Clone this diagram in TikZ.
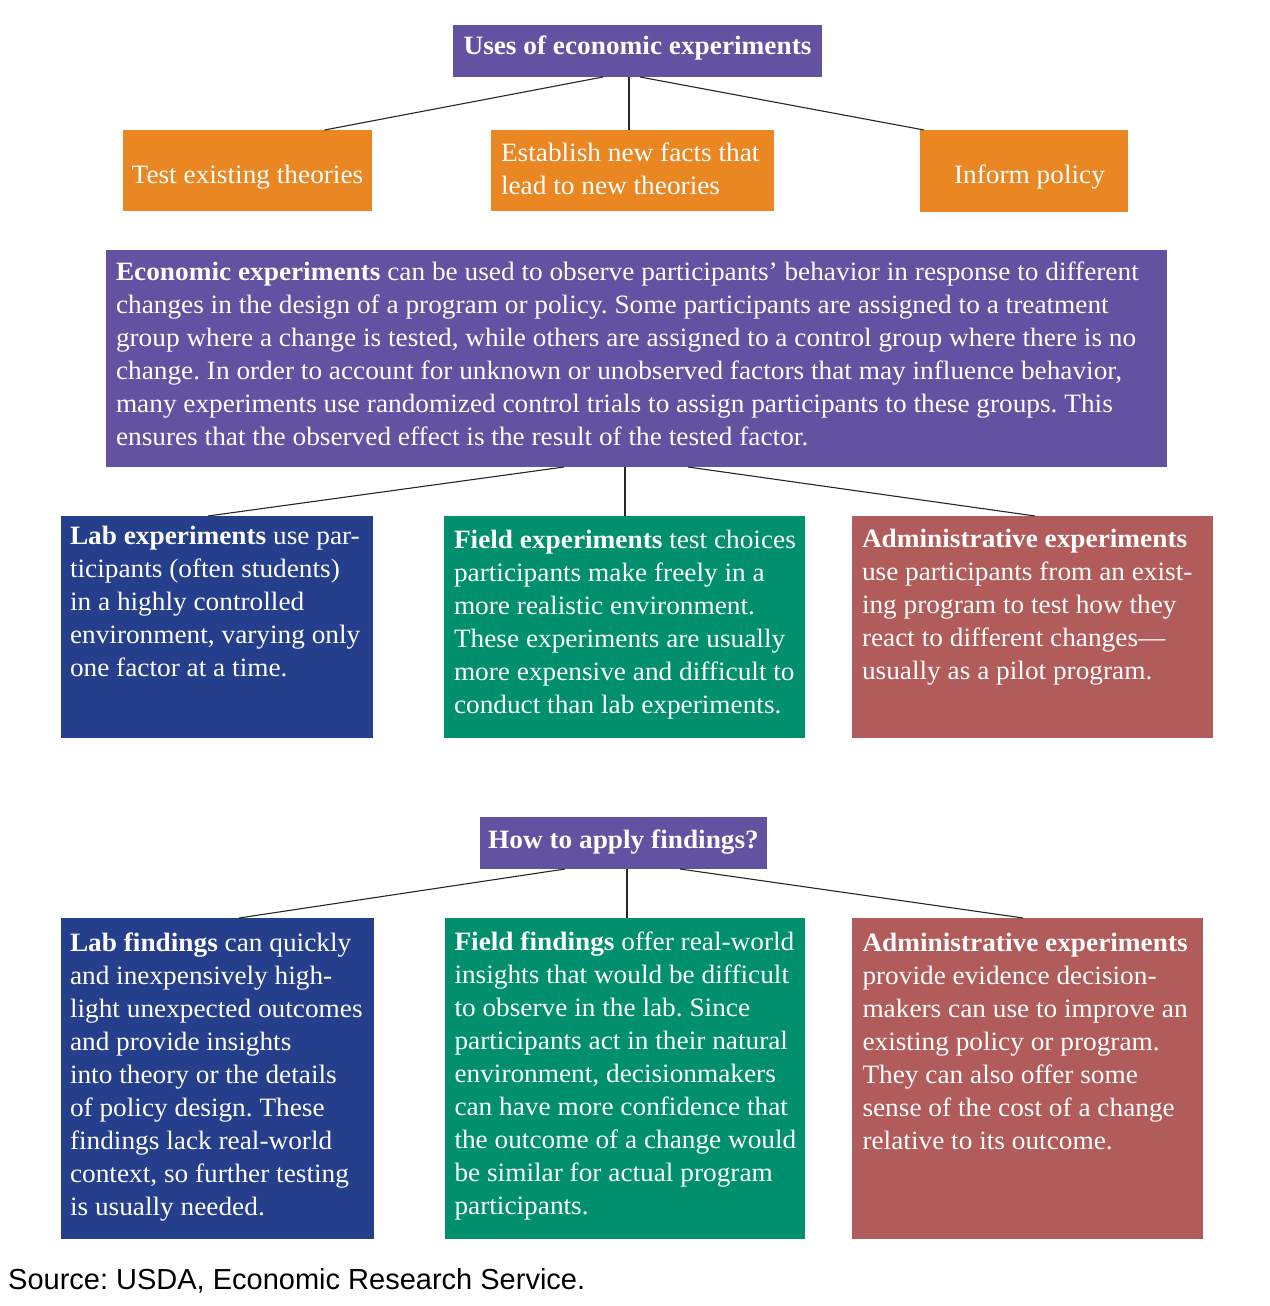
\documentclass[tikz,border=0pt]{standalone}
\usepackage{fontspec}
\setmainfont[FakeStretch=1.03]{Liberation Serif}
\setsansfont{Liberation Sans}
\definecolor{purp}{RGB}{99,81,161}
\definecolor{orng}{RGB}{234,135,35}
\definecolor{blu}{RGB}{37,63,140}
\definecolor{grn}{RGB}{0,144,110}
\definecolor{rse}{RGB}{177,92,90}
\AtBeginDocument{\frenchspacing}
\tikzset{
  boxnode/.style={inner sep=0pt, outer sep=0pt, anchor=north west, draw=none},
  txt/.style={inner sep=0pt, outer sep=0pt, anchor=north west, align=left, text=white,
    font=\fontsize{26.5}{33}\selectfont},
  ctxt/.style={inner sep=0pt, outer sep=0pt, anchor=base, text=white,
    font=\fontsize{26.5}{33}\selectfont},
  link/.style={draw=black!85, line width=1.1pt}
}
\begin{document}
\begin{tikzpicture}[x=1pt,y=-1pt]
\useasboundingbox (0,0) rectangle (1269,1306);

% ---- top title and orange boxes
\node[boxnode, fill=purp, minimum width=369pt, minimum height=52pt] (t1) at (453,25) {};
\node[ctxt, font=\fontsize{26.5}{33}\selectfont\bfseries] (t1txt) at (637.5,55) {Uses of economic experiments};

\node[boxnode, fill=orng, minimum width=249pt, minimum height=81pt] (o1) at (123,130) {};
\node[boxnode, fill=orng, minimum width=283pt, minimum height=81pt] (o2) at (491,130) {};
\node[boxnode, fill=orng, minimum width=208pt, minimum height=82pt] (o3) at (920,130) {};
\node[ctxt] (o1txt) at (247.5,183) {Test existing theories};
\node[txt] (o2txt) at (501,137.9) {\strut Establish new facts that\\lead to new theories};
\node[ctxt] (o3txt) at (1029.5,183) {Inform policy};

\draw[link] ([xshift=150pt]t1.south west) -- ([xshift=201.5pt]o1.north west);
\draw[link] ([xshift=176pt]t1.south west) -- ([xshift=138pt]o2.north west);
\draw[link] ([xshift=187pt]t1.south west) -- ([xshift=4pt]o3.north west);

% ---- big description box
\node[boxnode, fill=purp, minimum width=1061pt, minimum height=217pt] (big) at (106,250) {};
\node[txt] (bigtxt) at (116,256.9) {\strut\textbf{Economic experiments} can be used to observe participants’ behavior in response to different\\
changes in the design of a program or policy. Some participants are assigned to a treatment\\
group where a change is tested, while others are assigned to a control group where there is no\\
change. In order to account for unknown or unobserved factors that may influence behavior,\\
many experiments use randomized control trials to assign participants to these groups. This\\
ensures that the observed effect is the result of the tested factor.};

% ---- three experiment boxes
\node[boxnode, fill=blu, minimum width=312pt, minimum height=222pt] (lab) at (61,516) {};
\node[boxnode, fill=grn, minimum width=361pt, minimum height=222pt] (field) at (444,516) {};
\node[boxnode, fill=rse, minimum width=361pt, minimum height=222pt] (adm) at (852,516) {};

\node[txt] (labtxt) at (70,521.2) {\strut\textbf{Lab experiments} use par-\\ticipants (often students)\\in a highly controlled\\environment, varying only\\one factor at a time.};
\node[txt] (fieldtxt) at (454,525.2) {\strut\textbf{Field experiments} test choices\\participants make freely in a\\more realistic environment.\\These experiments are usually\\more expensive and difficult to\\conduct than lab experiments.};
\node[txt] (admtxt) at (862,524.2) {\strut\textbf{Administrative experiments}\\use participants from an exist-\\ing program to test how they\\react to different changes—\\usually as a pilot program.};

\draw[link] ([xshift=458pt]big.south west) -- ([xshift=147pt]lab.north west);
\draw[link] ([xshift=519pt]big.south west) -- ([xshift=181pt]field.north west);
\draw[link] ([xshift=582pt]big.south west) -- ([xshift=183pt]adm.north west);

% ---- second title and findings boxes
\node[boxnode, fill=purp, minimum width=287pt, minimum height=52pt] (t2) at (480,817) {};
\node[ctxt, font=\fontsize{26.5}{33}\selectfont\bfseries] (t2txt) at (623.5,848) {How to apply findings?};

\node[boxnode, fill=blu, minimum width=313pt, minimum height=321pt] (lab2) at (61,918) {};
\node[boxnode, fill=grn, minimum width=360pt, minimum height=321pt] (field2) at (445,918) {};
\node[boxnode, fill=rse, minimum width=351pt, minimum height=321pt] (adm2) at (852,918) {};

\node[txt] (lab2txt) at (70,928.6) {\strut\textbf{Lab findings} can quickly\\and inexpensively high-\\light unexpected outcomes\\and provide insights\\into theory or the details\\of policy design. These\\findings lack real-world\\context, so further testing\\is usually needed.};
\node[txt] (field2txt) at (454.5,926.9) {\strut\textbf{Field findings} offer real-world\\insights that would be difficult\\to observe in the lab. Since\\participants act in their natural\\environment, decisionmakers\\can have more confidence that\\the outcome of a change would\\be similar for actual program\\participants.};
\node[txt] (adm2txt) at (862.5,928.6) {\strut\textbf{Administrative experiments}\\provide evidence decision-\\makers can use to improve an\\existing policy or program.\\They can also offer some\\sense of the cost of a change\\relative to its outcome.};

\draw[link] ([xshift=85pt]t2.south west) -- ([xshift=178pt]lab2.north west);
\draw[link] ([xshift=147pt]t2.south west) -- ([xshift=182pt]field2.north west);
\draw[link] ([xshift=200pt]t2.south west) -- ([xshift=171pt]adm2.north west);

% ---- source
\node[inner sep=0pt, anchor=base west, font=\sffamily\fontsize{29}{33}\selectfont] (src) at (8,1289) {Source: USDA, Economic Research Service.};
\end{tikzpicture}
\end{document}
